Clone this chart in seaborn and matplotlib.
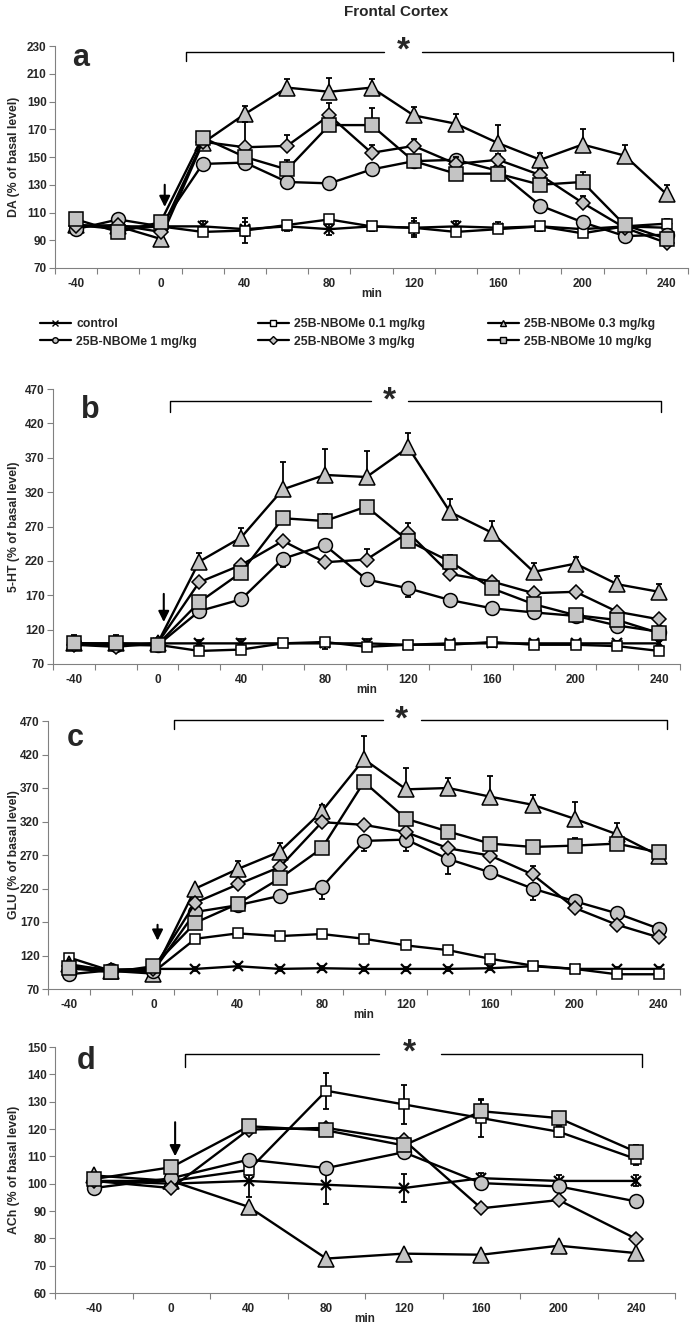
import numpy as np
import seaborn as sns
from matplotlib import pyplot as plt
from matplotlib.lines import Line2D

# sampling times (min)
t_fast = list(range(-40, 241, 20))
t_ach = list(range(-40, 241, 40))

# ---- DA (panel a) ----
da_ctrl = [100, 100, 100, 100, 98, 100, 98, 100, 99, 100, 99, 100, 98, 100, 99]
da_01 = [101, 98, 100, 96, 97, 101, 105, 100, 99, 96, 98, 100, 95, 100, 102]
da_03 = [101, 100, 91, 160, 181, 200, 197, 200, 180, 174, 160, 148, 159, 151, 123]
da_1 = [98, 105, 100, 145, 146, 132, 131, 141, 147, 148, 140, 115, 103, 93, 94]
da_3 = [100, 101, 96, 161, 157, 158, 180, 153, 158, 145, 148, 137, 117, 99, 88]
da_10 = [105, 96, 103, 164, 150, 141, 173, 173, 147, 138, 138, 130, 132, 101, 91]
da_ctrl_err = [2, 2, 2, 4, 5, 3, 4, 3, 5, 4, 4, 3, 3, 3, 2]
da_01_err = [2, 2, 2, 2, 9, 3, 3, 3, 7, 3, 3, 3, 3, 3, 3]
da_03_err = [2, 2, 3, 4, 6, 6, 10, 6, 6, 7, 13, 5, 11, 8, 7]
da_1_err = [2, 2, 2, 3, 3, 4, 3, 3, 3, 3, 3, 3, 3, 3, 3]
da_3_err = [2, 2, 2, 3, 18, 8, 9, 6, 5, 5, 4, 4, 5, 4, 3]
da_10_err = [3, 2, 3, 3, 3, 7, 4, 12, 3, 3, 3, 3, 7, 3, 3]

# ---- 5-HT (panel b) ----
ht_ctrl = [100, 97, 100, 100, 100, 100, 100, 100, 98, 100, 100, 100, 100, 100, 100]
ht_01 = [100, 98, 98, 89, 91, 100, 102, 95, 98, 98, 102, 98, 98, 96, 89]
ht_03 = [100, 100, 100, 219, 254, 324, 345, 342, 385, 291, 261, 204, 216, 186, 175]
ht_1 = [100, 98, 97, 147, 164, 223, 243, 193, 180, 163, 151, 145, 140, 126, 117]
ht_3 = [98, 95, 100, 189, 214, 249, 218, 222, 261, 201, 190, 173, 175, 146, 135]
ht_10 = [100, 100, 98, 160, 203, 282, 278, 299, 249, 219, 180, 157, 141, 134, 115]
ht_ctrl_err = [5, 4, 5, 5, 6, 4, 8, 6, 4, 4, 5, 4, 4, 4, 4]
ht_01_err = [3, 3, 3, 3, 3, 4, 5, 4, 4, 4, 4, 4, 4, 4, 3]
ht_03_err = [5, 5, 5, 12, 14, 40, 38, 38, 21, 19, 17, 13, 10, 12, 11]
ht_1_err = [4, 4, 4, 4, 5, 12, 5, 10, 13, 4, 4, 4, 4, 4, 4]
ht_3_err = [4, 4, 4, 5, 4, 5, 5, 16, 14, 5, 5, 5, 4, 4, 4]
ht_10_err = [12, 12, 8, 5, 5, 5, 10, 5, 5, 10, 5, 5, 5, 5, 5]

# ---- GLU (panel c) ----
glu_ctrl = [100, 98, 100, 100, 104, 100, 101, 100, 100, 100, 101, 104, 100, 100, 100]
glu_01 = [117, 97, 95, 145, 153, 149, 152, 145, 135, 128, 115, 105, 100, 92, 92]
glu_03 = [107, 97, 93, 220, 249, 275, 335, 413, 368, 370, 357, 345, 324, 301, 269]
glu_1 = [92, 98, 97, 185, 195, 209, 222, 291, 293, 264, 244, 220, 201, 183, 160]
glu_3 = [104, 99, 100, 199, 226, 252, 319, 315, 304, 280, 269, 241, 191, 166, 147]
glu_10 = [102, 95, 104, 169, 197, 235, 280, 379, 324, 305, 287, 282, 284, 287, 274]
glu_ctrl_err = [3, 3, 3, 3, 3, 3, 3, 3, 3, 3, 3, 3, 3, 3, 3]
glu_01_err = [3, 3, 3, 3, 3, 3, 3, 3, 3, 3, 3, 3, 3, 3, 3]
glu_03_err = [3, 3, 3, 4, 12, 13, 10, 35, 32, 15, 31, 14, 25, 17, 4]
glu_1_err = [3, 3, 3, 5, 5, 5, 17, 15, 17, 22, 8, 17, 5, 5, 5]
glu_3_err = [3, 3, 3, 4, 5, 5, 5, 5, 5, 5, 5, 12, 4, 4, 4]
glu_10_err = [3, 3, 3, 5, 8, 5, 8, 5, 5, 8, 8, 8, 12, 5, 5]

# ---- ACh (panel d) ----
ach_ctrl = [101, 100, 101, 99.6, 98.4, 102, 101, 101]
ach_01 = [101, 101, 105, 134, 129, 124, 119, 109]
ach_03 = [103, 101, 91.5, 72.6, 74.4, 74, 77.3, 74.6]
ach_1 = [98.4, 102, 108.8, 105.7, 111.5, 100.2, 99, 93.5]
ach_3 = [101, 98.4, 119.8, 120.4, 116, 91, 94, 79.8]
ach_10 = [101.7, 106, 121, 119.5, 114, 126.5, 124, 111.6]
ach_ctrl_err = [2, 2, 6, 7, 5, 2, 2, 2]
ach_01_err = [2, 2, 2, 6.5, 7, 7, 2, 2]
ach_03_err = [1, 1, 1, 1, 1, 1, 1, 1]
ach_1_err = [2, 2, 2, 2, 2, 2, 2, 2]
ach_3_err = [1, 1, 1, 1, 1, 1, 1, 1]
ach_10_err = [2, 2, 1, 1, 1, 4, 1, 2.5]

labels = ['control', '25B-NBOMe 0.1 mg/kg', '25B-NBOMe 0.3 mg/kg',
          '25B-NBOMe 1 mg/kg', '25B-NBOMe 3 mg/kg', '25B-NBOMe 10 mg/kg']

sns.set_style('white')
plt.rcParams['font.family'] = ['Liberation Sans', 'DejaVu Sans']
plt.rcParams['font.weight'] = 'bold'
plt.rcParams['axes.unicode_minus'] = False

GRAY = '#c4c4c4'
# marker, size, face colour, error direction
styles = [
    dict(marker='x', ms=7, mfc='black', err='both'),
    dict(marker='s', ms=7.5, mfc='white', err='both'),
    dict(marker='^', ms=11, mfc=GRAY, err='up'),
    dict(marker='o', ms=10, mfc=GRAY, err='down'),
    dict(marker='D', ms=7, mfc=GRAY, err='up'),
    dict(marker='s', ms=10, mfc=GRAY, err='up'),
]

W, H = 692, 1328
fig = plt.figure(figsize=(W / 100, H / 100), dpi=100)


def make_ax(l, t, r, b):
    return fig.add_axes([l / W, 1 - b / H, (r - l) / W, (b - t) / H])


panels = [
    dict(rect=(55, 46, 688, 268), t=t_fast, ylim=(70, 230), ystep=20, ylabel='DA (% of basal level)',
         series=[da_ctrl, da_01, da_03, da_1, da_3, da_10],
         errs=[da_ctrl_err, da_01_err, da_03_err, da_1_err, da_3_err, da_10_err],
         letter=('a', -38, 221), bracket=(12, 243, 226, 219, 115, 9), arrow=(2, 132, 112)),
    dict(rect=(53, 389, 680, 664), t=t_fast, ylim=(70, 470), ystep=50, ylabel='5-HT (% of basal level)',
         series=[ht_ctrl, ht_01, ht_03, ht_1, ht_3, ht_10],
         errs=[ht_ctrl_err, ht_01_err, ht_03_err, ht_1_err, ht_3_err, ht_10_err],
         letter=('b', -32, 440), bracket=(6, 241, 453, 437, 111, 9), arrow=(3, 176, 127)),
    dict(rect=(48, 721, 680, 989), t=t_fast, ylim=(70, 470), ystep=50, ylabel='GLU (% of basal level)',
         series=[glu_ctrl, glu_01, glu_03, glu_1, glu_3, glu_10],
         errs=[glu_ctrl_err, glu_01_err, glu_03_err, glu_1_err, glu_3_err, glu_10_err],
         letter=('c', -37, 444), bracket=(10, 244, 471, 458, 118, 9), arrow=(2, 170, 138)),
    dict(rect=(55, 1047, 675, 1293), t=t_ach, ylim=(60, 150), ystep=10, ylabel='ACh (% of basal level)',
         series=[ach_ctrl, ach_01, ach_03, ach_1, ach_3, ach_10],
         errs=[ach_ctrl_err, ach_01_err, ach_03_err, ach_1_err, ach_3_err, ach_10_err],
         letter=('d', -44, 144.7), bracket=(7, 243, 147.6, 142.7, 123, 16), arrow=(2, 123.5, 109)),
]

for p in panels:
    l, top, r, b = p['rect']
    ax = make_ax(l, top, r, b)
    t = np.array(p['t'])
    step = t[1] - t[0]

    for i, (vals, err, st) in enumerate(zip(p['series'], p['errs'], styles)):
        err = np.array(err, dtype=float)
        zero = np.zeros_like(err)
        lo = err if st['err'] in ('both', 'down') else zero
        hi = err if st['err'] in ('both', 'up') else zero
        ax.errorbar(t, vals, yerr=[lo, hi], fmt='none', ecolor='black',
                    elinewidth=1.3, capsize=2.5, capthick=1.3, zorder=3 + 2 * i)
        sns.lineplot(x=t, y=vals, ax=ax, color='black', linewidth=1.7,
                     marker=st['marker'], markersize=st['ms'],
                     markerfacecolor=st['mfc'], markeredgecolor='black',
                     markeredgewidth=1.6 if st['marker'] == 'x' else 1.1,
                     zorder=4 + 2 * i)

    # Excel-like category axis: tick marks between categories, labels every 40 min
    ax.set_xlim(t[0] - step / 2, t[-1] + step / 2)
    ax.set_xticks(np.arange(t[0] - step / 2, t[-1] + step, step), minor=True)
    ax.set_xticks(np.arange(-40, 241, 40))
    ax.tick_params(axis='x', which='major', length=0, pad=7, labelsize=8.5)
    ax.tick_params(axis='x', which='minor', length=4, direction='out', color='#808080', width=0.8)
    ax.set_ylim(*p['ylim'])
    ax.set_yticks(np.arange(p['ylim'][0], p['ylim'][1] + 1, p['ystep']))
    ax.tick_params(axis='y', length=4, direction='out', color='#808080', width=0.8, pad=2, labelsize=8.5)
    ax.xaxis.set_ticks_position('bottom')
    ax.yaxis.set_ticks_position('left')
    for s in ['top', 'right']:
        ax.spines[s].set_visible(False)
    for s in ['left', 'bottom']:
        ax.spines[s].set_color('#808080')
        ax.spines[s].set_linewidth(0.8)

    ax.set_ylabel(p['ylabel'], fontsize=8.8, fontweight='bold')
    ax.yaxis.set_label_coords((20 - l) / (r - l), 0.5)
    ax.set_xlabel('min', fontsize=8.5, fontweight='bold')
    ax.xaxis.set_label_coords(0.5, -20 / (b - top))

    letter, lx, ly = p['letter']
    ax.text(lx, ly, letter, fontsize=22, fontweight='bold', ha='center', va='center')

    x1, x2, ytop, ybot, xs, gap = p['bracket']
    kw = dict(color='black', lw=1.0, clip_on=False)
    ax.plot([x1, x1, xs - gap], [ybot, ytop, ytop], **kw)
    ax.plot([xs + gap, x2, x2], [ytop, ytop, ybot], **kw)
    ax.text(xs, ytop, '*', fontsize=24, fontweight='bold', ha='center', va='center')

    axx, ay1, ay2 = p['arrow']
    ax.annotate('', xy=(axx, ay2), xytext=(axx, ay1),
                arrowprops=dict(arrowstyle='-|>', color='black', lw=1.5, mutation_scale=16))

fig.text(396 / W, 1 - 12 / H, 'Frontal Cortex', ha='center', va='center',
         fontsize=11, fontweight='bold')

# legend, three columns of two rows
handles = [Line2D([], [], color='black', lw=1.6, marker=st['marker'], markersize=4,
                  markerfacecolor=st['mfc'], markeredgecolor='black', markeredgewidth=1.0)
           for st in styles]
col_x = [40, 258, 488]
for c in range(3):
    leg = fig.legend([handles[c], handles[c + 3]], [labels[c], labels[c + 3]],
                     loc='upper left', bbox_to_anchor=(col_x[c] / W, 1 - 318 / H),
                     frameon=False, fontsize=8.8, handlelength=2.5, handletextpad=0.45,
                     labelspacing=0.45, borderaxespad=0, borderpad=0)

fig.savefig('out.png', dpi=100)
